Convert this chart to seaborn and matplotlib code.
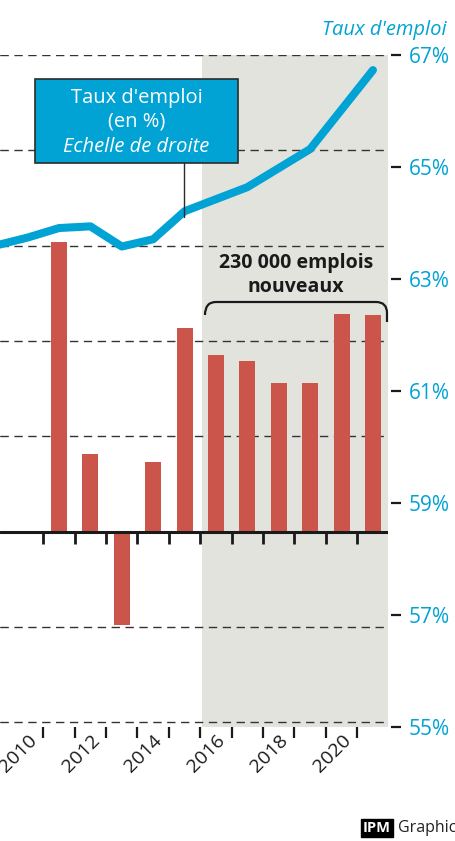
import matplotlib.pyplot as plt
import seaborn as sns
import numpy as np
import pandas as pd
from matplotlib.patches import Rectangle, PathPatch
from matplotlib.path import Path
from matplotlib.lines import Line2D

# Création nette d'emplois (milliers, échelle de gauche non affichée)
bar_years = [2011, 2012, 2013, 2014, 2015, 2016, 2017, 2018, 2019, 2020, 2021]
jobs = [60.8, 16.2, -19.5, 14.5, 42.8, 37.1, 35.7, 31.1, 31.1, 45.7, 45.5]

# Taux d'emploi (%, échelle de droite)
rate_years = [2009, 2010, 2011, 2012, 2013, 2014, 2015, 2017, 2019, 2021]
rate = [63.60, 63.74, 63.91, 63.94, 63.58, 63.71, 64.21, 64.64, 65.32, 66.73]

right_ticks = [55, 57, 59, 61, 63, 65, 67]
right_labels = ['55%', '57%', '59%', '61%', '63%', '65%', '67%']
label_years = [2010, 2012, 2014, 2016, 2018, 2020]
year_labels = ['2010', '2012', '2014', '2016', '2018', '2020']
grid_levels = [-40, -20, 0, 20, 40, 60, 80, 100]

CYAN = '#00a3d4'
RED = '#cc554b'
GRAY = '#e3e3de'
INK = '#1a1a1a'

sns.set_style('white')
plt.rcParams['font.family'] = ['Open Sans', 'DejaVu Sans']

W, H = 455, 841
def fx(px):
    return px / W
def fy(py):
    return 1 - py / H

fig = plt.figure(figsize=(W / 100, H / 100), dpi=100)
ax = fig.add_axes([0, fy(727), fx(388), 672 / H])

# shaded period 2016-2021
ax.axvspan(2015.55, 2021.48, color=GRAY, lw=0, zorder=0)

df = pd.DataFrame({'year': bar_years, 'jobs': jobs})
sns.barplot(data=df, x='year', y='jobs', native_scale=True, width=0.51,
            color=RED, saturation=1, linewidth=0, ax=ax, zorder=2)

ax.set_xlim(2009.12, 2021.48)
ax.set_ylim(-41, 100)
ax.set_xlabel('')
ax.set_ylabel('')
for s in ax.spines.values():
    s.set_visible(False)

ax.set_yticks(grid_levels)
ax.grid(True, axis='y', color='#333333', lw=1.0, linestyle=(0, (6, 4)))
ax.grid(False, axis='x')
ax.tick_params(axis='y', left=False, labelleft=False)

# axe zéro + graduations
bounds = [y - 0.5 for y in bar_years]
ax.axhline(0, color=INK, lw=2.2, zorder=3)
ax.vlines(bounds, -2.7, 0, color=INK, lw=2, zorder=3)

ax.set_xticks(bounds)
ax.tick_params(axis='x', which='major', length=8, width=1.6, color=INK,
               direction='out', labelbottom=False, bottom=True)
ax.set_xticks(label_years, minor=True)
ax.set_xticklabels(year_labels, minor=True, rotation=45, ha='right',
                   rotation_mode='anchor', fontsize=14, color=INK)
ax.tick_params(axis='x', which='minor', length=0, pad=3)

# taux d'emploi
ax2 = ax.twinx()
sns.lineplot(x=rate_years, y=rate, ax=ax2, color=CYAN, lw=5.8,
             solid_capstyle='round')
ax2.set_ylim(55, 67)
ax2.set_yticks(right_ticks)
ax2.set_yticklabels(right_labels)
ax2.set_ylabel('')
for s in ax2.spines.values():
    s.set_visible(False)
ax2.spines['right'].set_position(('outward', 2.2))
ax2.tick_params(axis='y', which='major', right=True, length=7, width=1.6,
                color=INK, labelcolor=CYAN, labelsize=15, pad=6)

fig.text(fx(447), fy(35), "Taux d'emploi", ha='right', va='baseline',
         style='italic', color=CYAN, fontsize=14.5)

# encadré légende
fig.add_artist(Rectangle((fx(35), fy(163)), (238 - 35) / W, (163 - 79) / H,
                         transform=fig.transFigure, facecolor=CYAN,
                         edgecolor='#2b2b2b', lw=1.2, zorder=5))
fig.add_artist(Line2D([fx(184), fx(184)], [fy(163), fy(217)],
                      transform=fig.transFigure, color='#2b2b2b', lw=1, zorder=5))
fig.text(fx(136.5), fy(103), "Taux d'emploi", ha='center', va='baseline',
         color='white', fontsize=14.5, zorder=6)
fig.text(fx(136.5), fy(127), "(en %)", ha='center', va='baseline',
         color='white', fontsize=14.5, zorder=6)
fig.text(fx(136.5), fy(152), "Echelle de droite", ha='center', va='baseline',
         color='white', fontsize=14.5, style='italic', zorder=6)

# accolade 230 000 emplois
fig.text(fx(296), fy(268), "230 000 emplois", ha='center', va='baseline',
         weight='bold', fontsize=14, color=INK, zorder=6)
fig.text(fx(296), fy(292), "nouveaux", ha='center', va='baseline',
         weight='bold', fontsize=14, color=INK, zorder=6)
pts = [(205, 315), (205, 302), (216, 302), (376, 302), (387, 302), (387, 313), (387, 322)]
codes = [Path.MOVETO, Path.CURVE3, Path.CURVE3, Path.LINETO, Path.CURVE3, Path.CURVE3, Path.LINETO]
brace = Path([(fx(x), fy(y)) for x, y in pts], codes)
fig.add_artist(PathPatch(brace, transform=fig.transFigure, fill=False,
                         edgecolor=INK, lw=1.6, zorder=6))

# signature
fig.text(fx(363), fy(832), "IPM", ha='left', va='baseline', color='white',
         weight='bold', fontsize=10.5,
         bbox=dict(boxstyle='square,pad=0.12', fc='black', ec='black'))
fig.text(fx(398), fy(832), "Graphics", ha='left', va='baseline',
         color='#222222', fontsize=11.5)

fig.savefig('out.png', dpi=100, facecolor='white')
